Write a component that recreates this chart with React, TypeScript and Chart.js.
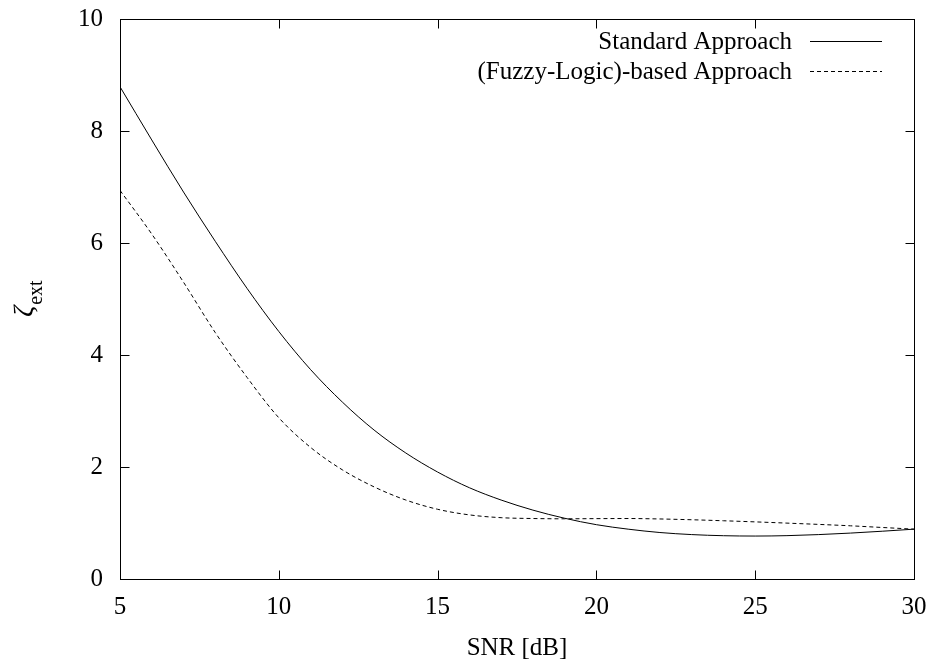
import React, { useEffect, useRef } from "react";
import { Chart, registerables } from "chart.js";

Chart.register(...registerables);

const snr = [5, 6, 7, 8, 9, 10, 11, 12, 13, 14, 15, 16, 17, 18, 19, 20, 21, 22, 23, 24, 25, 26, 27, 28, 29, 30];
const standard = [8.79, 7.84, 6.91, 6.03, 5.19, 4.42, 3.74, 3.16, 2.66, 2.25, 1.91, 1.63, 1.41, 1.23, 1.085, 0.97, 0.89, 0.83, 0.793, 0.773, 0.767, 0.774, 0.793, 0.82, 0.853, 0.89];
const fuzzy = [6.94, 6.16, 5.3, 4.4, 3.6, 2.88, 2.35, 1.95, 1.645, 1.41, 1.245, 1.145, 1.095, 1.08, 1.075, 1.078, 1.08, 1.072, 1.058, 1.04, 1.02, 0.998, 0.975, 0.95, 0.92, 0.89];
const xTicks = [5, 10, 15, 20, 25, 30];
const yTicks = [0, 2, 4, 6, 8, 10];
const seriesLabels = ["Standard Approach", "(Fuzzy-Logic)-based Approach"];
const xTitle = "SNR [dB]";
const yTitleMain = "ζ";
const yTitleSub = "ext";

const FONT = '"Liberation Serif", "Times New Roman", serif';

const framePlugin = {
  id: "frame",
  afterDatasetsDraw(chart: any) {
    const { ctx, chartArea: a, scales } = chart;
    const xs = scales.x;
    const ys = scales.y;
    const L = Math.round(a.left) + 0.5;
    const R = Math.round(a.right) + 0.5;
    const T = Math.round(a.top) + 0.5;
    const B = Math.round(a.bottom) + 0.5;
    ctx.save();
    ctx.strokeStyle = "#000";
    ctx.lineWidth = 1;
    ctx.setLineDash([]);
    ctx.strokeRect(L, T, R - L, B - T);
    const tl = 9;
    ctx.beginPath();
    xTicks.slice(1, -1).forEach((v) => {
      const px = Math.round(xs.getPixelForValue(v)) + 0.5;
      ctx.moveTo(px, B);
      ctx.lineTo(px, B - tl);
      ctx.moveTo(px, T);
      ctx.lineTo(px, T + tl);
    });
    yTicks.slice(1, -1).forEach((v) => {
      const py = Math.round(ys.getPixelForValue(v)) + 0.5;
      ctx.moveTo(L, py);
      ctx.lineTo(L + tl, py);
      ctx.moveTo(R, py);
      ctx.lineTo(R - tl, py);
    });
    ctx.stroke();

    // legend
    ctx.font = `25px ${FONT}`;
    ctx.fillStyle = "#000";
    ctx.textAlign = "right";
    ctx.textBaseline = "middle";
    chart.data.datasets.forEach((ds: any, i: number) => {
      const yy = Math.round(a.top + 22 + i * 30) + 0.5;
      ctx.fillText(ds.label, a.right - 122, yy + 1);
      ctx.beginPath();
      ctx.setLineDash(ds.borderDash || []);
      ctx.moveTo(a.right - 104, yy);
      ctx.lineTo(a.right - 32, yy);
      ctx.stroke();
      ctx.setLineDash([]);
    });

    // y title
    ctx.translate(28, (a.top + a.bottom) / 2);
    ctx.rotate(-Math.PI / 2);
    ctx.textAlign = "left";
    ctx.textBaseline = "alphabetic";
    ctx.font = `italic 27px ${FONT}`;
    const wz = ctx.measureText(yTitleMain).width;
    ctx.font = `20px ${FONT}`;
    const we = ctx.measureText(yTitleSub).width;
    const start = -(wz + we) / 2;
    ctx.font = `italic 27px ${FONT}`;
    ctx.fillText(yTitleMain, start, 4);
    ctx.font = `20px ${FONT}`;
    ctx.fillText(yTitleSub, start + wz + 1, 14);
    ctx.restore();
  },
};

export default function App() {
  const ref = useRef<HTMLCanvasElement | null>(null);
  useEffect(() => {
    if (!ref.current) return;
    const chart = new Chart(ref.current, {
      type: "line",
      data: {
        datasets: [
          {
            label: seriesLabels[0],
            data: snr.map((x, i) => ({ x, y: standard[i] })),
            borderColor: "#000",
            borderWidth: 1,
            pointRadius: 0,
            cubicInterpolationMode: "monotone",
            fill: false,
          },
          {
            label: seriesLabels[1],
            data: snr.map((x, i) => ({ x, y: fuzzy[i] })),
            borderColor: "#000",
            borderWidth: 1,
            borderDash: [4, 3],
            pointRadius: 0,
            cubicInterpolationMode: "monotone",
            fill: false,
          },
        ],
      },
      options: {
        responsive: false,
        animation: false,
        devicePixelRatio: 1,
        layout: { autoPadding: false, padding: { left: 78, right: 22, top: 19, bottom: 0 } },
        plugins: {
          legend: { display: false },
          tooltip: { enabled: false },
        },
        scales: {
          x: {
            type: "linear",
            min: 5,
            max: 30,
            afterBuildTicks: (s: any) => {
              s.ticks = xTicks.map((v) => ({ value: v }));
            },
            afterFit: (s: any) => {
              s.height = 87;
              s.paddingLeft = 0;
              s.paddingRight = 0;
            },
            grid: { display: false, drawTicks: false },
            border: { display: false },
            ticks: {
              color: "#000",
              font: { family: FONT, size: 25 },
              padding: 13,
              maxRotation: 0,
              autoSkip: false,
            },
            title: {
              display: true,
              text: xTitle,
              color: "#000",
              font: { family: FONT, size: 25 },
              padding: { top: 4, bottom: 3 },
            },
          },
          y: {
            type: "linear",
            min: 0,
            max: 10,
            afterBuildTicks: (s: any) => {
              s.ticks = yTicks.map((v) => ({ value: v }));
            },
            afterFit: (s: any) => {
              s.width = 42;
              s.paddingTop = 0;
              s.paddingBottom = 0;
            },
            grid: { display: false, drawTicks: false },
            border: { display: false },
            ticks: {
              color: "#000",
              font: { family: FONT, size: 25 },
              padding: 17,
              autoSkip: false,
            },
          },
        },
      },
      plugins: [framePlugin],
    } as any);
    return () => chart.destroy();
  }, []);
  return (
    <div style={{ position: "fixed", left: 0, top: 0, width: 936, height: 666, background: "#fff" }}>
      <canvas ref={ref} width={936} height={666} style={{ width: 936, height: 666, display: "block" }} />
    </div>
  );
}
